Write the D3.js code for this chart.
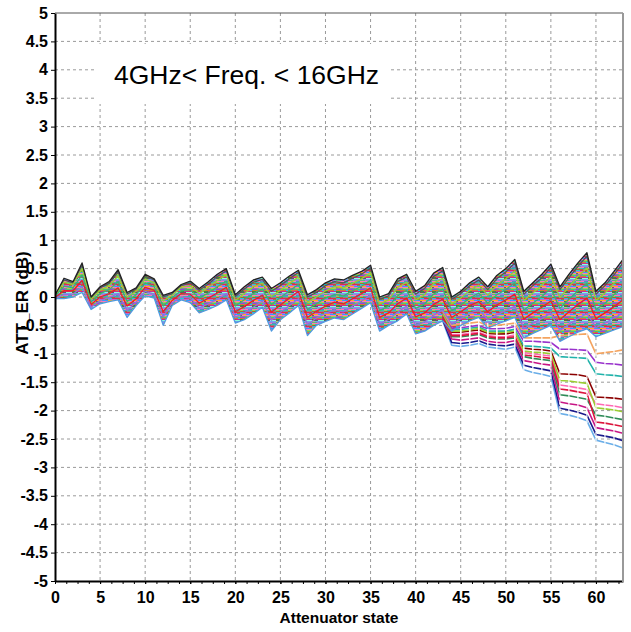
<!DOCTYPE html>
<meta charset="utf-8">
<script src="https://cdn.jsdelivr.net/npm/d3@7"></script>
<style>
body { margin: 0; background: #fff; }
text { font-family: Arial, "Liberation Sans", sans-serif; fill: #000; }
.grid line { stroke: #9a9a9a; stroke-width: 1; stroke-dasharray: 3,3; }
.axis text { font-weight: bold; }
.trace { fill: none; stroke-linejoin: round; }
</style>
<body>
<script>

// attenuator states 0..63
var states = d3.range(64);
var xTicks = [0, 5, 10, 15, 20, 25, 30, 35, 40, 45, 50, 55, 60];
var yTicks = [5, 4.5, 4, 3.5, 3, 2.5, 2, 1.5, 1, 0.5, 0, -0.5, -1, -1.5, -2, -2.5, -3, -3.5, -4, -4.5, -5];
var yTickLabels = ["5", "4.5", "4", "3.5", "3", "2.5", "2", "1.5", "1", "0.5", "0", "-0.5", "-1", "-1.5", "-2", "-2.5", "-3", "-3.5", "-4", "-4.5", "-5"];

// upper and lower edge of the dense bundle of frequency traces (dB)
var bandTop = [0.03,0.33,0.27,0.6, 0.0,0.18,0.27,0.48, 0.08,0.16,0.4,0.32, 0.03,0.08,0.22,0.28,
  0.15,0.27,0.4,0.5, 0.04,0.18,0.3,0.35, 0.15,0.25,0.37,0.47, 0.04,0.13,0.25,0.32,
  0.3,0.38,0.45,0.56, 0.0,0.06,0.32,0.4, 0.1,0.2,0.42,0.52, 0.0,0.1,0.25,0.35,
  0.18,0.38,0.5,0.66, 0.1,0.25,0.4,0.58, 0.18,0.4,0.6,0.78, 0.1,0.25,0.45,0.66];
var bandBottom = [-0.03,-0.03,0.0,0.08, -0.22,-0.12,-0.08,-0.05, -0.36,-0.15,0.02,-0.02, -0.5,-0.15,-0.05,-0.1,
  -0.28,-0.22,-0.15,-0.05, -0.46,-0.4,-0.3,-0.18, -0.6,-0.4,-0.28,-0.15, -0.68,-0.5,-0.43,-0.37,
  -0.4,-0.3,-0.2,-0.1, -0.6,-0.5,-0.42,-0.3, -0.65,-0.6,-0.5,-0.42, -0.6,-0.5,-0.42,-0.36,
  -0.55,-0.48,-0.42,-0.36, -0.72,-0.64,-0.57,-0.5, -0.78,-0.7,-0.62,-0.56, -0.7,-0.64,-0.58,-0.52];

// a few individual traces inside the bundle
var trace0 = [.03,.3,.25,.56, -.01,.16,.24,.44, .05,.14,.37,.3, 0,.06,.2,.25,
  .12,.23,.36,.46, .01,.14,.26,.31, .1,.2,.32,.43, 0,.08,.2,.27,
  .25,.33,.4,.51, -.04,.02,.27,.35, .05,.15,.36,.46, -.04,.06,.2,.3,
  .13,.32,.44,.6, .05,.2,.34,.52, .13,.34,.54,.72, .05,.2,.39,.6];
var trace1 = [.02,.26,.22,.5, -.04,.12,.2,.37, 0,.1,.32,.25, -.07,.03,.17,.2,
  .06,.17,.29,.39, -.06,.06,.18,.24, .01,.12,.24,.35, -.09,0,.11,.18,
  .16,.24,.32,.43, -.12,-.05,.17,.26, -.05,.04,.24,.33, -.12,-.02,.12,.21,
  .03,.21,.32,.46, -.06,.07,.21,.36, -.01,.18,.36,.51, -.06,.07,.24,.42];
var trace2 = [.01,.19,.16,.39, -.09,.06,.13,.27, -.08,.04,.25,.18, -.16,-.01,.11,.13,
  -.02,.07,.18,.28, -.16,-.05,.06,.14, -.13,-.01,.11,.22, -.22,-.12,-.02,.04,
  .02,.11,.19,.3, -.24,-.16,.02,.12, -.2,-.12,.05,.14, -.24,-.14,-.02,.07,
  -.11,.04,.13,.25, -.23,-.11,.01,.15, -.2,-.04,.11,.24, -.22,-.11,.04,.19];
var trace3 = [-.01,.11,.11,.29, -.13,0,.06,.16, -.16,-.03,.17,.12, -.26,-.06,.06,.05,
  -.11,-.02,.07,.17, -.26,-.17,-.06,.03, -.27,-.14,-.02,.1, -.36,-.25,-.16,-.09,
  -.12,-.03,.06,.16, -.36,-.28,-.12,-.02, -.35,-.28,-.13,-.04, -.36,-.26,-.15,-.08,
  -.26,-.14,-.05,.05, -.39,-.28,-.18,-.07, -.4,-.26,-.13,-.02, -.38,-.28,-.17,-.05];
var trace4 = [-.02,.04,.05,.18, -.18,-.06,-.01,.06, -.24,-.09,.1,.05, -.35,-.1,0,-.02,
  -.19,-.12,-.04,.06, -.36,-.28,-.18,-.07, -.41,-.27,-.15,-.03, -.49,-.37,-.29,-.23,
  -.26,-.16,-.07,.03, -.48,-.39,-.27,-.16, -.5,-.44,-.32,-.23, -.48,-.38,-.29,-.22,
  -.4,-.31,-.24,-.16, -.56,-.46,-.38,-.28, -.59,-.48,-.38,-.29, -.54,-.46,-.37,-.28];

// traces that leave the bundle at high attenuation, states 43..63
var tailStart = 43;
var tail1 = [-0.42, -0.85,-0.87,-0.85,-0.82, -0.88,-0.9,-0.92,-0.88, -1.28,-1.33,-1.36,-1.4, -2.05,-2.08,-2.12,-2.18, -2.52,-2.56,-2.6,-2.66];
var tail2 = [-0.4, -0.8,-0.82,-0.8,-0.77, -0.83,-0.85,-0.86,-0.83, -1.2,-1.24,-1.27,-1.3, -1.96,-1.99,-2.03,-2.08, -2.42,-2.45,-2.48,-2.53];
var tail3 = [-0.38, -0.74,-0.76,-0.74,-0.72, -0.78,-0.8,-0.8,-0.77, -1.12,-1.15,-1.18,-1.2, -1.85,-1.88,-1.9,-1.95, -2.3,-2.33,-2.36,-2.4];
var tail4 = [-0.36, -0.7,-0.7,-0.68,-0.66, -0.72,-0.74,-0.74,-0.72, -1.05,-1.08,-1.1,-1.12, -1.72,-1.74,-1.77,-1.8, -2.08,-2.1,-2.13,-2.16];
var tail5 = [-0.34, -0.66,-0.66,-0.64,-0.62, -0.68,-0.7,-0.7,-0.67, -0.98,-1.0,-1.02,-1.04, -1.55,-1.57,-1.6,-1.63, -1.88,-1.9,-1.92,-1.95];
var tail6 = [-0.32, -0.62,-0.62,-0.6,-0.58, -0.64,-0.65,-0.65,-0.62, -0.9,-0.92,-0.93,-0.95, -1.35,-1.36,-1.37,-1.4, -1.76,-1.77,-1.78,-1.8];
var tail7 = [-0.3, -0.58,-0.57,-0.55,-0.53, -0.6,-0.6,-0.6,-0.57, -0.86,-0.87,-0.88,-0.9, -1.05,-1.06,-1.07,-1.08, -1.35,-1.37,-1.38,-1.4];
var tail8 = [-0.28, -0.55,-0.54,-0.52,-0.5, -0.56,-0.56,-0.55,-0.52, -0.78,-0.78,-0.79,-0.8, -0.92,-0.92,-0.93,-0.94, -1.15,-1.17,-1.18,-1.2];
var tail9 = [-0.25, -0.5,-0.48,-0.46,-0.44, -0.5,-0.5,-0.48,-0.46, -0.72,-0.72,-0.72,-0.72, -0.68,-0.67,-0.66,-0.65, -1.0,-0.98,-0.96,-0.93];
var tail10 = [-0.3, -0.6,-0.6,-0.58,-0.55, -0.62,-0.63,-0.62,-0.6, -0.95,-0.97,-0.98,-1.0, -1.47,-1.48,-1.5,-1.52, -1.95,-1.97,-1.99,-2.02];
var tail11 = [-0.35, -0.68,-0.68,-0.66,-0.64, -0.7,-0.72,-0.72,-0.7, -1.02,-1.04,-1.06,-1.08, -1.62,-1.64,-1.67,-1.7, -2.2,-2.22,-2.25,-2.28];

var mainTraces = [
  {values: trace0, color: "#555555"},
  {values: trace1, color: "#9acd32"},
  {values: trace2, color: "#3cb371"},
  {values: trace3, color: "#e8202a"},
  {values: trace4, color: "#9370db"},
  {values: bandBottom, color: "#4f9ae0"},
  {values: bandTop, color: "#222222"}
];
var tails = [
  {values: tail1, color: "#6aaee8"}, {values: tail2, color: "#1a1a8c"},
  {values: tail3, color: "#c71585"}, {values: tail4, color: "#2e8b57"},
  {values: tail5, color: "#ff69b4"}, {values: tail6, color: "#8b0000"},
  {values: tail7, color: "#20b2aa"}, {values: tail8, color: "#9932cc"},
  {values: tail9, color: "#f4a460"}, {values: tail10, color: "#9acd32"},
  {values: tail11, color: "#dc143c"}
];

// texture for the dense bundle: each row = [left colour, right colour, split]
var tileRows = [
  ["#3cb371", "#9370db", 5], ["#ff69b4", "#4682b4", 8], ["#9acd32", "#20b2aa", 3],
  ["#a0522d", "#808080", 7], ["#00ced1", "#dc143c", 4], ["#ba55d3", "#6b8e23", 9],
  ["#ffa500", "#1e90ff", 6], ["#555555", "#ff69b4", 2], ["#708090", "#9acd32", 7],
  ["#8a2be2", "#3cb371", 5], ["#d2691e", "#00bfff", 10], ["#228b22", "#c71585", 4],
  ["#4b4b4b", "#7fffd4", 6], ["#bdb76b", "#6495ed", 3]
];

var width = 631,
    height = 632,
    plotL = 55, plotR = 623, plotT = 13, plotB = 581,
    tileW = 12;

var svg = d3.select("body").append("svg")
    .attr("width", width)
    .attr("height", height);

var x = d3.scaleLinear().domain([0, 63]).range([plotL, plotR]);
var y = d3.scaleLinear().domain([-5, 5]).range([plotB, plotT]);

svg.append("rect").attr("width", width).attr("height", height).attr("fill", "#fff");

var defs = svg.append("defs");
defs.append("clipPath").attr("id", "plot")
  .append("rect").attr("x", plotL).attr("y", plotT).attr("width", plotR - plotL).attr("height", plotB - plotT);

var pat = defs.append("pattern").attr("id", "mix")
    .attr("patternUnits", "userSpaceOnUse")
    .attr("width", tileW).attr("height", tileRows.length);
tileRows.forEach(function(r, i) {
  pat.append("rect").attr("x", 0).attr("y", i).attr("width", r[2]).attr("height", 1).attr("fill", r[0]);
  pat.append("rect").attr("x", r[2]).attr("y", i).attr("width", tileW - r[2]).attr("height", 1).attr("fill", r[1]);
});

// grid
var grid = svg.append("g").attr("class", "grid");
grid.selectAll(".gx").data(xTicks.filter(function(d) { return d > 0; })).enter().append("line")
    .attr("x1", function(d) { return x(d); }).attr("x2", function(d) { return x(d); })
    .attr("y1", plotT).attr("y2", plotB);
grid.selectAll(".gy").data(yTicks.filter(function(d) { return d > -5 && d < 5; })).enter().append("line")
    .attr("x1", plotL).attr("x2", plotR)
    .attr("y1", function(d) { return y(d); }).attr("y2", function(d) { return y(d); });

// title box
svg.append("rect").attr("x", 94).attr("y", 44).attr("width", 296).attr("height", 60).attr("fill", "#fff");
svg.append("text").attr("x", 114).attr("y", 84)
    .style("font-size", "26.5px")
    .text("4GHz< Freq. < 16GHz");

var plot = svg.append("g").attr("clip-path", "url(#plot)");

var band = d3.area()
    .x(function(d) { return x(d); })
    .y0(function(d) { return y(bandBottom[d]); })
    .y1(function(d) { return y(bandTop[d]); });

plot.append("path")
    .datum(states)
    .attr("d", band)
    .attr("fill", "url(#mix)")
    .attr("opacity", 0.9);

var line = d3.line()
    .x(function(d, i) { return x(states[i]); })
    .y(function(d) { return y(d); });
var tailLine = d3.line()
    .x(function(d, i) { return x(tailStart + i); })
    .y(function(d) { return y(d); });

plot.selectAll(".tail").data(tails).enter().append("path")
    .attr("class", "trace")
    .attr("d", function(d) { return tailLine(d.values); })
    .attr("stroke", function(d) { return d.color; })
    .attr("stroke-width", 1.6);

// white point marks on the split-off traces
tails.forEach(function(t) {
  plot.selectAll(null).data(t.values.slice(2)).enter().append("rect")
      .attr("x", function(d, i) { return x(tailStart + 2 + i) - 0.6; })
      .attr("y", function(d) { return y(d) - 2.5; })
      .attr("width", 1.2).attr("height", 5)
      .attr("fill", "#fff");
});

plot.selectAll(".main").data(mainTraces).enter().append("path")
    .attr("class", "trace")
    .attr("d", function(d) { return line(d.values); })
    .attr("stroke", function(d) { return d.color; })
    .attr("stroke-width", 1.3);

// axes
var yAxis = d3.axisLeft(y).tickValues(yTicks).tickSize(4).tickSizeOuter(0).tickPadding(3)
    .tickFormat(function(d, i) { return yTickLabels[i]; });
var gy = svg.append("g").attr("class", "axis").attr("transform", "translate(" + plotL + ",0)").call(yAxis);
gy.selectAll("text").style("font-size", "16px");

var minor = d3.range(0, 63, 1.25);
var gxm = svg.append("g").attr("transform", "translate(0," + plotB + ")")
    .call(d3.axisBottom(x).tickValues(minor).tickSize(3).tickSizeOuter(0).tickFormat(""));
gxm.select(".domain").remove();

var xAxis = d3.axisBottom(x).tickValues(xTicks).tickSize(3).tickSizeOuter(0).tickPadding(8);
var gx = svg.append("g").attr("class", "axis").attr("transform", "translate(0," + plotB + ")").call(xAxis);
gx.selectAll("text").style("font-size", "16px");

svg.selectAll(".domain").attr("stroke", "#000").attr("stroke-width", 2);

// frame
svg.append("line").attr("x1", plotL).attr("x2", plotR).attr("y1", plotT).attr("y2", plotT)
    .attr("stroke", "#555").attr("stroke-width", 1);
svg.append("line").attr("x1", plotR).attr("x2", plotR).attr("y1", plotT).attr("y2", plotB + 1)
    .attr("stroke", "#999").attr("stroke-width", 2);

svg.append("text")
    .attr("x", (plotL + plotR) / 2).attr("y", 623)
    .attr("text-anchor", "middle")
    .style("font-size", "15.5px").style("font-weight", "bold")
    .text("Attenuator state");

svg.append("text")
    .attr("transform", "rotate(-90)")
    .attr("x", -303).attr("y", 28)
    .attr("text-anchor", "middle")
    .style("font-size", "17px").style("font-weight", "bold")
    .text("ATT_ER (dB)");

</script>
</body>
</html>
